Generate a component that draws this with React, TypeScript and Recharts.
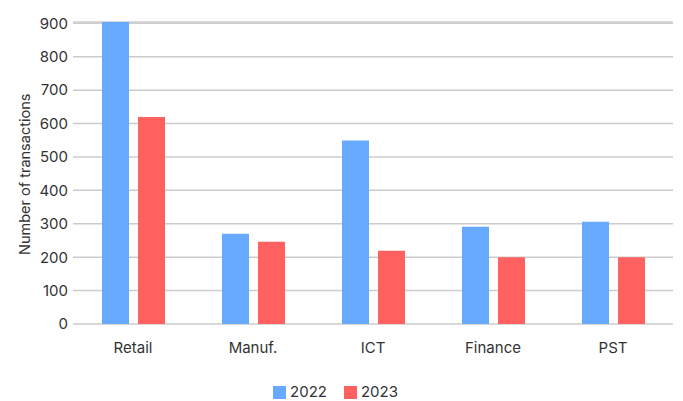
import React from 'react';
import { BarChart, Bar, XAxis, YAxis, CartesianGrid, Legend } from 'recharts';

const sectors = ['Retail', 'Manuf.', 'ICT', 'Finance', 'PST'];
const values2022 = [904, 270, 549, 291, 306];
const values2023 = [620, 246, 219, 200, 200];
const yTicks = [0, 100, 200, 300, 400, 500, 600, 700, 800, 900];

const data = sectors.map((name, i) => ({ name, y2022: values2022[i], y2023: values2023[i] }));

const font = 'Inter, "Noto Sans", sans-serif';

const App: React.FC = () => {
    return (
        <div style={{ position: 'absolute', left: 0, top: 0, width: 683, height: 401, background: '#fff', fontFamily: font }}>
            <BarChart width={683} height={401} data={data} margin={{ top: 22, right: 10, left: 15, bottom: 0 }} barGap={9} barSize={27}>
                <CartesianGrid vertical={false} stroke="#cccccc" strokeWidth={1.5} />
                <XAxis dataKey="name" axisLine={false} tickLine={false} height={58} tickMargin={12}
                    tick={{ fill: '#333', fontSize: 15, fontFamily: font }} />
                <YAxis domain={[0, 900]} ticks={yTicks} axisLine={false} tickLine={false} width={58} tickSize={0} tickMargin={5}
                    tick={{ fill: '#333', fontSize: 15, fontFamily: font }}
                    label={{ value: 'Number of transactions', angle: -90, position: 'insideLeft', offset: 10, dy: 82, style: { fill: '#333', fontSize: 14.5, fontFamily: font } }} />
                <Legend verticalAlign="bottom" iconType="square" iconSize={13}
                    wrapperStyle={{ fontSize: 15, fontFamily: font, color: '#333' }}
                    formatter={(v) => <span style={{ color: '#333', marginRight: 7 }}>{v}</span>} />
                <Bar dataKey="y2022" name="2022" fill="#66a9ff" isAnimationActive={false} />
                <Bar dataKey="y2023" name="2023" fill="#ff6161" isAnimationActive={false} />
            </BarChart>
        </div>
    );
};

export default App;
